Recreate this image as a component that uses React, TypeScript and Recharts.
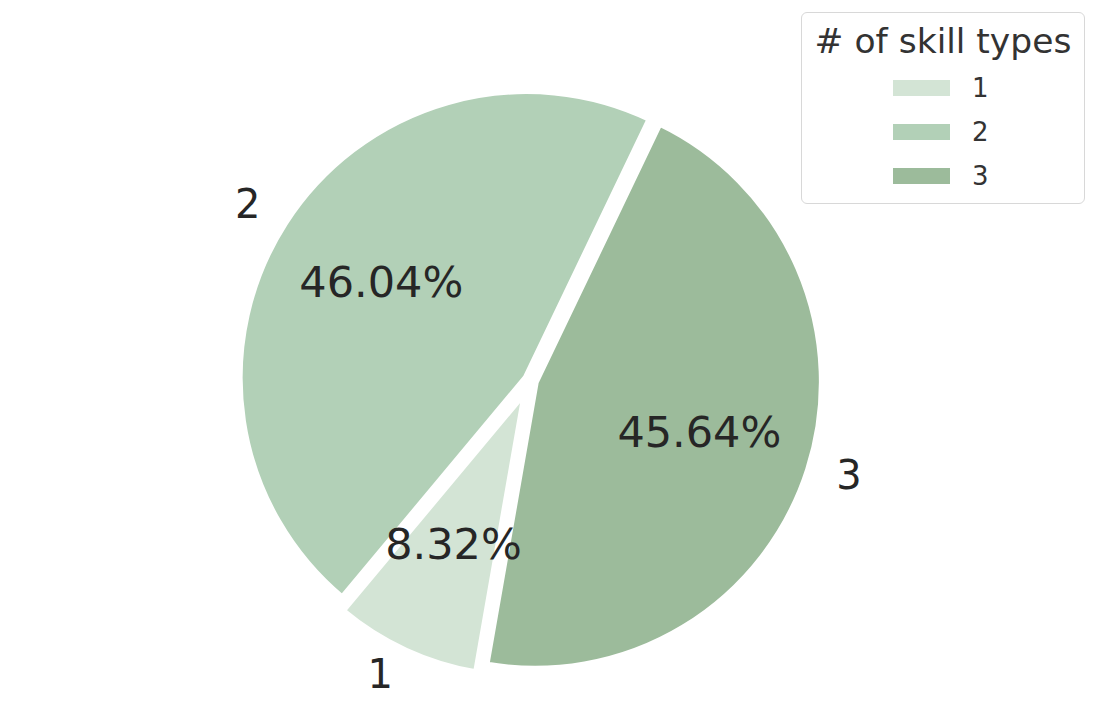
import React from 'react';
import { PieChart, Pie, Cell, Legend } from 'recharts';

const categories = ['1', '2', '3'];
const shares = [8.32, 46.04, 45.64];
const colors = ['#d3e4d5', '#b2d0b7', '#9cbb9b'];
const legendTitle = '# of skill types';

const data = categories.map((name, i) => ({ name, value: shares[i] }));

const CX = 530.5;
const CY = 380.5;
const R = 287.5;
const EXPLODE = [10.5, 4.8, 4.8]; // px per wedge
const START = 260.1; // clockwise from here
const RAD = Math.PI / 180;
const FONT = '"DejaVu Sans", sans-serif';
const TEXT = '#262626';

const total = shares.reduce((a, b) => a + b, 0);
const midAngles = shares.map((v, i) => {
  const before = shares.slice(0, i).reduce((a, b) => a + b, 0);
  return START - (360 * (before + v / 2)) / total;
});

const makeLabel = (k: number) => (props: any) => {
  if (props.index !== k) return null;
  const { cx, cy, midAngle, outerRadius, value, name } = props;
  const cos = Math.cos(midAngle * RAD);
  const sin = Math.sin(midAngle * RAD);
  return (
    <g>
      <text
        x={cx + outerRadius * 0.6 * cos}
        y={cy - outerRadius * 0.6 * sin}
        dy={-3}
        textAnchor="middle"
        dominantBaseline="central"
        fontSize={43}
        fontFamily={FONT}
        fill={TEXT}
      >
        {`${value.toFixed(2)}%`}
      </text>
      <text
        x={cx + outerRadius * 1.1 * cos}
        y={cy - outerRadius * 1.1 * sin}
        dy={-3}
        textAnchor={cos >= 0 ? 'start' : 'end'}
        dominantBaseline="central"
        fontSize={40}
        fontFamily={FONT}
        fill={TEXT}
      >
        {name}
      </text>
    </g>
  );
};

const renderLegend = () => (
  <div
    style={{
      boxSizing: 'border-box',
      width: 284,
      height: 192,
      border: '1.5px solid #d8d8d8',
      borderRadius: 6,
      background: '#fff',
      fontFamily: FONT,
      color: TEXT,
    }}
  >
    <div style={{ fontSize: 34.5, textAlign: 'center', lineHeight: '40px', marginTop: 8, marginBottom: 5, color: '#333', whiteSpace: 'nowrap' }}>
      {legendTitle}
    </div>
    {categories.map((c, i) => (
      <div key={c} style={{ display: 'flex', alignItems: 'center', height: 44, marginLeft: 91 }}>
        <span style={{ display: 'inline-block', width: 57, height: 16, background: colors[i] }} />
        <span style={{ fontSize: 26, marginLeft: 22, color: '#333' }}>{c}</span>
      </div>
    ))}
  </div>
);

export default function App() {
  return (
    <div style={{ position: 'absolute', left: 0, top: 0, width: 1100, height: 706, background: '#fff' }}>
      <PieChart width={1100} height={706} margin={{ top: 0, right: 0, bottom: 0, left: 0 }}>
        {categories.map((c, k) => (
          <Pie
            key={c}
            data={data}
            dataKey="value"
            nameKey="name"
            cx={CX + EXPLODE[k] * Math.cos(midAngles[k] * RAD)}
            cy={CY - EXPLODE[k] * Math.sin(midAngles[k] * RAD)}
            outerRadius={R}
            startAngle={START}
            endAngle={START - 360}
            stroke="none"
            label={makeLabel(k)}
            labelLine={false}
            isAnimationActive={false}
          >
            {data.map((d, i) => (
              <Cell
                key={d.name}
                fill={i === k ? colors[i] : 'none'}
                stroke={i === k ? '#fff' : 'none'}
                strokeWidth={i === k ? 7.4 : 0}
              />
            ))}
          </Pie>
        ))}
        <Legend
          layout="vertical"
          align="right"
          verticalAlign="top"
          content={renderLegend}
          wrapperStyle={{ left: 801, top: 12, right: 'auto', width: 284, height: 192 }}
        />
      </PieChart>
    </div>
  );
}
